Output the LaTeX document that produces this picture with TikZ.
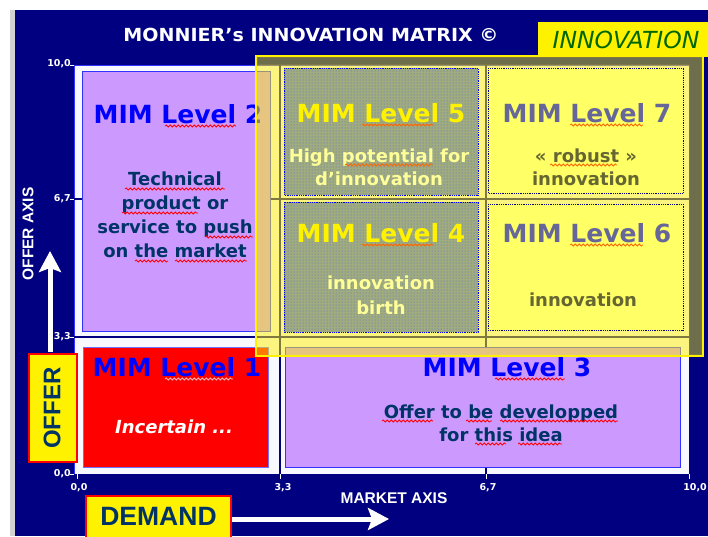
\documentclass[tikz,border=0pt]{standalone}
\usepackage{fontspec}
\setmainfont{DejaVu Sans}
\newfontfamily\arialf{Liberation Sans}
\usetikzlibrary{arrows.meta,patterns,decorations.pathmorphing}
\definecolor{navyc}{HTML}{000080}
\definecolor{lav}{HTML}{CC99FF}
\definecolor{boxblue}{HTML}{3333FF}
\definecolor{lvblue}{HTML}{0000FF}
\definecolor{txtc}{HTML}{003366}
\definecolor{plotc}{HTML}{F8F8FF}
\definecolor{l5c}{HTML}{A0AC7E}
\definecolor{l5dot}{HTML}{5066E0}
\definecolor{l7c}{HTML}{FFFF66}
\definecolor{l5b}{HTML}{FFFF99}
\definecolor{l7t}{HTML}{666699}
\definecolor{l7b}{HTML}{666633}
\definecolor{bandc}{HTML}{6E6E4C}
\definecolor{innog}{HTML}{006600}
\definecolor{wavor}{HTML}{FF6600}
\begin{document}
\begin{tikzpicture}[x=1pt,y=-1pt,
  ttl/.style={font=\fontsize{25}{30}\selectfont\bfseries, anchor=base, inner sep=0},
  bod/.style={font=\fontsize{18}{22}\selectfont\bfseries, anchor=base, inner sep=0},
  ticklab/.style={font=\fontsize{9.5}{11}\selectfont\bfseries, text=white, inner sep=0},
  axlab/.style={font=\arialf\fontsize{15.5}{18}\selectfont\bfseries, text=white, inner sep=0},
  gridl/.style={navyc, line width=1.5},
  tickm/.style={white, line width=1},
  lvbox/.style={fill=lav, draw=boxblue, line width=0.8},
  inbox/.style={draw=navyc, densely dotted, line width=0.8},
  wav/.style={decorate, decoration={snake, segment length=4pt, amplitude=1pt}, line width=0.8},
  tagbox/.style={fill=yellow, draw=red, line width=2.5},
  bigarrow/.style={white, line width=5, -{Stealth[length=21pt, width=22pt, inset=4pt]}}]
\useasboundingbox (0,0) rectangle (708,536);
% background
\fill[white] (0,0) rectangle (708,536);
\fill[gray!35] (10,10) rectangle (15,536);
\fill[navyc] (15,10) rectangle (708,536);
% title
\node[font=\fontsize{18}{22}\selectfont\bfseries, text=white, anchor=base, inner sep=0, xscale=1.06] (title) at (311,41) {MONNIER's INNOVATION MATRIX ©};
\fill[yellow] (538,22) rectangle (708,57);
\node[font=\fontsize{23.5}{28}\selectfont\itshape, text=innog, anchor=base, inner sep=0] (inno) at (626,48) {INNOVATION};
% plot area
\fill[plotc] (74,65) rectangle (689,474);
\draw[boxblue, line width=0.6] (74,474) -- (74,65) -- (689,65);
\draw[gridl] (71,337) -- (689,337);
\draw[gridl] (71,199) -- (689,199);
\draw[gridl] (280,65) -- (280,474);
\draw[gridl] (486,65) -- (486,474);
\foreach \yy in {65,199,337,474} \draw[tickm] (70,\yy) -- (74,\yy);
\foreach \xx in {77,280,486,689} \draw[tickm] (\xx,474) -- (\xx,479);
\node[ticklab, anchor=east] (ty10) at (71,64) {10,0};
\node[ticklab, anchor=east] (ty67) at (71,199) {6,7};
\node[ticklab, anchor=east] (ty33) at (71,337) {3,3};
\node[ticklab, anchor=east] (ty00) at (71,474) {0,0};
\node[ticklab] (tx00) at (79,488) {0,0};
\node[ticklab] (tx33) at (283,488) {3,3};
\node[ticklab] (tx67) at (488,488) {6,7};
\node[ticklab] (tx10) at (695,488) {10,0};
% level 2
\draw[lvbox] (82,71) rectangle (270,331);
\node[ttl, text=lvblue] (t2) at (178,123) {MIM Level 2};
\node[bod, text=txtc] (b2a) at (175,185) {Technical};
\node[bod, text=txtc] (b2b) at (175,209) {product or};
\node[bod, text=txtc] (b2c) at (175,233) {service to push};
\node[bod, text=txtc] (b2d) at (175,257) {on the market};
\draw[wav, red] (165,126) -- (236,126);
\draw[wav, red] (125,189) -- (225,189);
\draw[wav, red] (122,213) -- (198,213);
\draw[wav, red] (205,237) -- (253,237);
\draw[wav, red] (135,261) -- (168,261);
\draw[wav, red] (175,261) -- (247,261);
% level 1
\draw[fill=red, draw=boxblue!70, line width=0.8] (83,347) rectangle (268,467);
\node[ttl, text=lvblue] (t1) at (177,376) {MIM Level 1};
\node[bod, text=white, font=\fontsize{18}{22}\selectfont\bfseries\itshape] (b1) at (174,433) {Incertain ...};
\draw[wav, red!25] (165,379) -- (233,379);
% level 3
\draw[lvbox] (285,347) rectangle (680,467);
\node[ttl, text=lvblue] (t3) at (507,376) {MIM Level 3};
\node[bod, text=txtc] (b3a) at (501,418) {Offer to be developped};
\node[bod, text=txtc] (b3b) at (501,441) {for this idea};
\draw[wav, red] (495,379) -- (565,379);
\draw[wav, red] (382,421) -- (433,421);
\draw[wav, red] (466,421) -- (492,421);
\draw[wav, red] (500,421) -- (618,421);
\draw[wav, red] (475,444) -- (506,444);
\draw[wav, red] (518,444) -- (562,444);
% innovation overlay
\fill[yellow, opacity=0.5] (256,56) rectangle (703,356);
\fill[bandc] (258,58) rectangle (701,64);
\fill[bandc] (690,58) rectangle (701,354);
\draw[yellow, line width=2.2] (256,56) rectangle (703,356);
% level 5
\fill[l5c] (284,68) rectangle (478,195);
\fill[pattern=dots, pattern color=l5dot] (284,68) rectangle (478,195);
\draw[inbox, draw=blue] (284,68) rectangle (478,195);
\node[ttl, text=yellow] (t5) at (381,122) {MIM Level 5};
\node[bod, text=l5b] (b5a) at (379,162) {High potential for};
\node[bod, text=l5b] (b5b) at (379,185) {d’innovation};
\draw[wav, wavor] (362,125) -- (434,125);
\draw[wav, wavor] (345,165) -- (433,165);
% level 4
\fill[l5c] (284,202) rectangle (478,332);
\fill[pattern=dots, pattern color=l5dot] (284,202) rectangle (478,332);
\draw[inbox, draw=blue] (284,202) rectangle (478,332);
\node[ttl, text=yellow] (t4) at (381,242) {MIM Level 4};
\node[bod, text=l5b] (b4a) at (381,289) {innovation};
\node[bod, text=l5b] (b4b) at (381,314) {birth};
\draw[wav, wavor] (362,245) -- (434,245);
% level 7
\fill[l7c] (488,68) rectangle (683,193);
\draw[inbox] (488,68) rectangle (683,193);
\node[ttl, text=l7t] (t7) at (587,122) {MIM Level 7};
\node[bod, text=l7b] (b7a) at (586,162) {« robust »};
\node[bod, text=l7b] (b7b) at (586,185) {innovation};
\draw[wav, wavor] (570,125) -- (643,125);
\draw[wav, wavor] (550,165) -- (617,165);
% level 6
\fill[l7c] (488,204) rectangle (683,330);
\draw[inbox] (488,204) rectangle (683,330);
\node[ttl, text=l7t] (t6) at (587,242) {MIM Level 6};
\node[bod, text=l7b] (b6a) at (583,306) {innovation};
\draw[wav, wavor] (570,245) -- (643,245);
% axes
\node[axlab, rotate=90] (offax) at (28,234) {OFFER AXIS};
\node[axlab, anchor=base] (mkax) at (394,503) {MARKET AXIS};
\draw[tagbox] (29,354) rectangle (77,462);
\draw[tagbox] (86,496) rectangle (231,545);
\coordinate (upend) at (50,251);
\coordinate (rtend) at (389,519);
\draw[bigarrow] (50,352) -- (upend);
\draw[bigarrow] (232,519) -- (rtend);
\node[font=\arialf\fontsize{24}{28}\selectfont\bfseries, text=txtc, rotate=90, inner sep=0] (offer) at (52,408) {OFFER};
\node[font=\arialf\fontsize{26.5}{30}\selectfont\bfseries, text=txtc, anchor=base, inner sep=0] (demand) at (158.5,525) {DEMAND};
\end{tikzpicture}
\end{document}
